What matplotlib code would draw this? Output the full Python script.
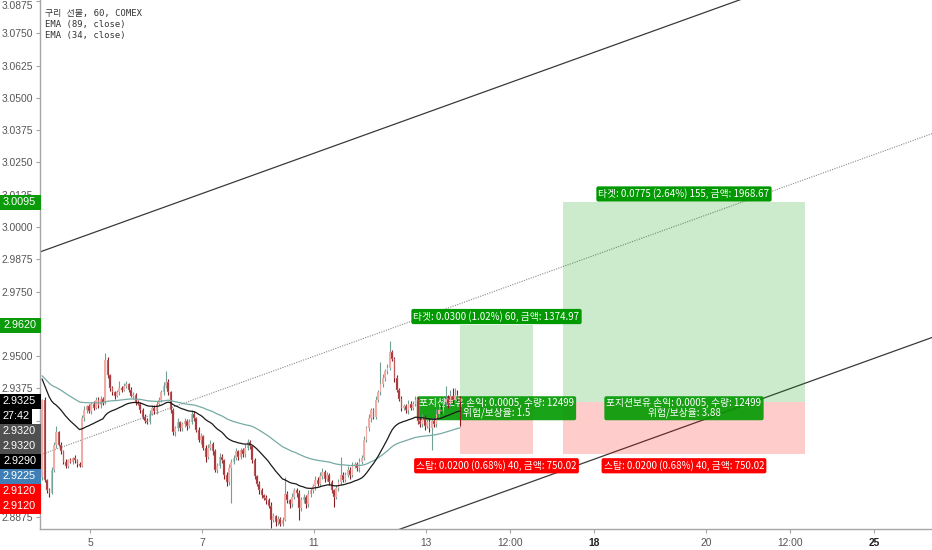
import matplotlib
matplotlib.use('Agg')
import matplotlib.pyplot as plt
from matplotlib.patches import Rectangle
from matplotlib.transforms import IdentityTransform
import numpy as np

W, H, DPI = 932, 550, 100

# ---------------- data ----------------
bars_per_day = 24
bar_start = 3            # index of first visible hourly bar (day units = index / 24)
tick_size = 0.0005
first_open = 2.9030
closes = [
    2.9330, 2.9020, 2.8980, 2.8970, 2.9060, 2.9155, 2.9205, 2.9155, 2.9130, 2.9090,
    2.9075, 2.9095, 2.9090, 2.9105, 2.9095, 2.9080, 2.9075, 2.9260, 2.9290, 2.9305,
    2.9285, 2.9315, 2.9300, 2.9330, 2.9310, 2.9335, 2.9320, 2.9485, 2.9425, 2.9375,
    2.9360, 2.9345, 2.9360, 2.9375, 2.9370, 2.9385, 2.9390, 2.9370, 2.9345, 2.9350,
    2.9320, 2.9315, 2.9290, 2.9265, 2.9250, 2.9245, 2.9275, 2.9300, 2.9285, 2.9315,
    2.9330, 2.9360, 2.9385, 2.9400, 2.9360, 2.9290, 2.9205, 2.9220, 2.9245, 2.9220,
    2.9235, 2.9250, 2.9230, 2.9245, 2.9275, 2.9260, 2.9215, 2.9175, 2.9190, 2.9145,
    2.9110, 2.9145, 2.9160, 2.9130, 2.9060, 2.9075, 2.9110, 2.9095, 2.9040, 2.9010,
    2.9065, 2.9090, 2.9105, 2.9130, 2.9110, 2.9135, 2.9120, 2.9145, 2.9165, 2.9150,
    2.9095, 2.9035, 2.9005, 2.8980, 2.8960, 2.8950, 2.8940, 2.8920, 2.8865, 2.8880,
    2.8855, 2.8870, 2.8850, 2.8865, 2.8965, 2.8940, 2.8925, 2.8955, 2.8980, 2.8970,
    2.8910, 2.8940, 2.8955, 2.8925, 2.8965, 2.8980, 2.8995, 2.9020, 2.9005, 2.9035,
    2.9050, 2.9025, 2.9040, 2.9010, 2.8980, 2.8955, 2.8990, 2.9010, 2.9040, 2.9020,
    2.9040, 2.9060, 2.9040, 2.9075, 2.9080, 2.9065, 2.9090, 2.9105, 2.9175, 2.9220,
    2.9260, 2.9290, 2.9265, 2.9330, 2.9360, 2.9390, 2.9415, 2.9440, 2.9455, 2.9515,
    2.9490, 2.9415, 2.9370, 2.9335, 2.9300, 2.9305, 2.9290, 2.9315, 2.9300, 2.9315,
    2.9330, 2.9250, 2.9235, 2.9260, 2.9230, 2.9245, 2.9220, 2.9250, 2.9235, 2.9275,
    2.9290, 2.9285, 2.9320, 2.9335, 2.9315, 2.9345, 2.9330, 2.9350, 2.9335, 2.9325,
]
# wick extension beyond the body, in ticks
hi_ticks = [
    1, 2, 1, 2, 2, 2, 5, 1, 2, 1,
    2, 1, 2, 1, 2, 1, 2, 2, 3, 1,
    2, 1, 2, 2, 2, 2, 1, 5, 2, 1,
    2, 1, 2, 6, 2, 2, 3, 1, 2, 2,
    1, 2, 1, 2, 2, 2, 3, 2, 2, 2,
    2, 2, 3, 8, 2, 1, 2, 2, 3, 1,
    2, 2, 1, 2, 3, 2, 1, 2, 2, 1,
    2, 3, 3, 1, 2, 2, 3, 2, 1, 2,
    3, 2, 2, 3, 1, 2, 2, 3, 3, 2,
    1, 2, 1, 2, 2, 1, 2, 2, 3, 2,
    1, 2, 1, 2, 13, 2, 1, 3, 2, 2,
    2, 3, 2, 1, 3, 2, 2, 3, 2, 3,
    3, 2, 2, 1, 2, 1, 2, 3, 14, 2,
    2, 3, 2, 3, 2, 2, 3, 2, 3, 2,
    3, 2, 2, 3, 2, 17, 3, 2, 3, 9,
    2, 1, 2, 1, 2, 2, 2, 3, 2, 2,
    3, 2, 2, 3, 2, 2, 3, 2, 2, 4,
    3, 4, 4, 10, 3, 5, 6, 5, 4, 2,
]
lo_ticks = [
    2, 2, 2, 3, 1, 2, 2, 1, 2, 2,
    2, 2, 1, 2, 2, 2, 1, 1, 2, 2,
    1, 2, 2, 1, 2, 2, 2, 1, 2, 2,
    2, 2, 1, 2, 2, 1, 2, 2, 1, 2,
    2, 1, 2, 2, 2, 2, 2, 1, 2, 2,
    1, 2, 2, 2, 2, 2, 2, 3, 2, 2,
    2, 2, 3, 2, 2, 2, 2, 2, 3, 2,
    4, 2, 2, 3, 2, 3, 2, 2, 3, 3,
    2, 27, 2, 2, 3, 2, 2, 2, 2, 2,
    2, 2, 2, 3, 2, 2, 3, 2, 6, 2,
    3, 2, 2, 2, 1, 2, 3, 2, 2, 3,
    9, 2, 2, 3, 2, 2, 2, 3, 2, 2,
    2, 3, 2, 2, 2, 8, 2, 3, 2, 2,
    2, 2, 3, 2, 2, 2, 3, 2, 2, 2,
    2, 3, 2, 2, 2, 2, 2, 2, 2, 2,
    2, 3, 2, 2, 3, 2, 2, 3, 2, 2,
    2, 3, 2, 2, 3, 2, 3, 17, 2, 2,
    3, 2, 2, 2, 3, 2, 3, 2, 2, 19,
]
ema89_seed = 2.9425
ema34_seed = 2.9415

# x axis (trading-day units, weekends removed)
x_tick_pos = [1, 3, 5, 7, 8.5, 10, 12, 13.5, 15]
x_tick_lab = ['5', '7', '11', '13', '12:00', '18', '20', '12:00', '25']
x_bold = ['18', '25']
x_lim = [0.107, 16.036]

y_ticks = [2.8875, 2.9000, 2.9125, 2.9250, 2.9375, 2.9500, 2.9625, 2.9750,
           2.9875, 3.0000, 3.0125, 3.0250, 3.0375, 3.0500, 3.0625, 3.0750, 3.0875]
y_hidden = [2.9000, 2.9125, 2.9625]   # labels fully covered by price-scale badges
y_lim = [2.88295, 3.08798]

# parallel channel (two anchor points per line)
chan_x = [0.0, 16.5]
chan_upper = [2.9895, 3.1185]
chan_mid = [2.9108, 3.0398]
chan_lower = [2.8318, 2.9608]

# long position tools
pos_entry = [2.9320, 2.9320]
pos_target = [2.9620, 3.0095]
pos_stop = [2.9120, 2.9120]
pos_x0 = [7.607, 9.446]
pos_x1 = [8.911, 13.768]
pos_target_txt = ['타겟: 0.0300 (1.02%) 60, 금액: 1374.97',
                  '타겟: 0.0775 (2.64%) 155, 금액: 1968.67']
pos_stop_txt = ['스탑: 0.0200 (0.68%) 40, 금액: 750.02',
                '스탑: 0.0200 (0.68%) 40, 금액: 750.02']
pos_mid_txt = ['포지션보유 손익: 0.0005, 수량: 12499\n위험/보상율: 1.5',
               '포지션보유 손익: 0.0005, 수량: 12499\n위험/보상율: 3.88']

# price-scale badges: value, text, colour
badge_val = [3.0095, 2.9620, 2.9325, 2.9325, 2.9320, 2.9320, 2.9290, 2.9225, 2.9120, 2.9120]
badge_txt = ['3.0095', '2.9620', '2.9325', '27:42', '2.9320', '2.9320', '2.9290', '2.9225', '2.9120', '2.9120']
badge_col = ['#0a9a0a', '#0a9a0a', '#000000', '#000000', '#505050', '#505050',
             '#000000', '#3f7fb5', '#ff0000', '#ff0000']

legend_lines = ['구리 선물, 60, COMEX', 'EMA (89, close)', 'EMA (34, close)']

# ---------------- build ----------------
closes = np.array(closes)
n = len(closes)
opens = np.concatenate([[first_open], closes[:-1]])
highs = np.maximum(opens, closes) + np.array(hi_ticks) * tick_size
lows = np.minimum(opens, closes) - np.array(lo_ticks) * tick_size
xs = (bar_start + np.arange(n) + 0.5) / bars_per_day

def ema(vals, seed, period):
    a = 2.0 / (period + 1)
    out = []
    e = seed
    for v in vals:
        e = e + a * (v - e)
        out.append(e)
    return np.array(out)

e89 = ema(closes, ema89_seed, 89)
e34 = ema(closes, ema34_seed, 34)

fig = plt.figure(figsize=(W / DPI, H / DPI), dpi=DPI)
fig.patch.set_facecolor('white')
ax = fig.add_axes([40 / W, 21 / H, 1 - 40 / W, 1 - 21 / H])
ax.set_xlim(*x_lim)
ax.set_ylim(*y_lim)

for s in ['top', 'right']:
    ax.spines[s].set_visible(False)
for s in ['left', 'bottom']:
    ax.spines[s].set_color('#a6a6a6')
    ax.spines[s].set_linewidth(1.0)

ax.set_yticks(y_ticks)
ax.set_yticklabels(['' if any(abs(v - h) < 1e-9 for h in y_hidden) else f'{v:.4f}'
                    for v in y_ticks])
ax.set_xticks(x_tick_pos)
ax.set_xticklabels(x_tick_lab)
ax.tick_params(axis='both', colors='#a6a6a6', length=3, width=0.8, labelsize=7.4,
               labelcolor='#555555', pad=2)
ax.tick_params(axis='x', pad=3.5)
for lab in ax.get_yticklabels() + ax.get_xticklabels():
    lab.set_fontfamily('Liberation Sans')
for lab in ax.get_xticklabels():
    if lab.get_text() in x_bold:
        lab.set_fontweight('bold')
        lab.set_color('#222222')
for t in ax.yaxis.get_major_ticks():
    if abs(t.get_loc() - y_ticks[-1]) < 1e-9:
        t.label1.set_verticalalignment('top')

# channel
ax.plot(chan_x, chan_upper, color='#3a3a3a', lw=0.9, zorder=1)
ax.plot(chan_x, chan_lower, color='#3a3a3a', lw=0.9, zorder=1)
ax.plot(chan_x, chan_mid, color='#8a8a8a', lw=0.8, ls=(0, (1, 1.2)), zorder=1)

# position tools
fam = ['Noto Sans CJK KR', 'DejaVu Sans']
for k in range(2):
    w = pos_x1[k] - pos_x0[k]
    ax.add_patch(Rectangle((pos_x0[k], pos_entry[k]), w, pos_target[k] - pos_entry[k],
                           facecolor=(0, 0.6, 0, 0.2), edgecolor='none', zorder=2))
    ax.add_patch(Rectangle((pos_x0[k], pos_stop[k]), w, pos_entry[k] - pos_stop[k],
                           facecolor=(1, 0, 0, 0.2), edgecolor='none', zorder=2))
    cx = (pos_x0[k] + pos_x1[k]) / 2
    ax.annotate(pos_target_txt[k], (cx, pos_target[k]), xytext=(0, 2.2), textcoords='offset points',
                ha='center', va='bottom', color='white', fontsize=7, family=fam, zorder=3,
                bbox=dict(boxstyle='round,pad=0.22,rounding_size=0.2', fc='#009900', ec='none'))
    ax.annotate(pos_stop_txt[k], (cx, pos_stop[k]), xytext=(0, -4.5), textcoords='offset points',
                ha='center', va='top', color='white', fontsize=7, family=fam, zorder=3,
                bbox=dict(boxstyle='round,pad=0.22,rounding_size=0.2', fc='#ff0000', ec='none'))
    ax.annotate(pos_mid_txt[k], (cx, pos_entry[k]), xytext=(0, -4), textcoords='offset points',
                ha='center', va='center', color='white', fontsize=7, family=fam, zorder=3,
                linespacing=0.95, multialignment='center',
                bbox=dict(boxstyle='round,pad=0.22,rounding_size=0.2', fc='#009900', ec='none', alpha=0.9))

# candles
up = closes >= opens
bw = 0.72 / bars_per_day
wick_col = np.where(up, '#72a096', '#8a1a22')
ax.vlines(xs, lows, highs, colors=list(wick_col), lw=0.8, zorder=4)
body_lo = np.minimum(opens, closes)
body_h = np.maximum(np.abs(closes - opens), 0.0003)
ax.bar(xs[up], body_h[up], bottom=body_lo[up], width=bw, color='#f2aca6', linewidth=0, zorder=5)
ax.bar(xs[~up], body_h[~up], bottom=body_lo[~up], width=bw * 0.8, color='#94202a',
       edgecolor='#f2aca6', linewidth=0.3, zorder=5)

# EMAs
ax.plot(xs, e89, color='#76aaa4', lw=0.9, zorder=6)
ax.plot(xs, e34, color='#1a1a1a', lw=0.9, zorder=6)

# legend text
for j, s in enumerate(legend_lines):
    ax.text(5 / (W - 40), 1 - (13.5 + 11 * j) / (H - 21), s, transform=ax.transAxes,
            ha='left', va='center', fontsize=6.4, color='#333333',
            family=['DejaVu Sans Mono', 'Noto Sans CJK KR'], zorder=7)

# price-scale badges (stacked to avoid overlap)
fig.canvas.draw()
prev = None
bh = 15
for v, t, c in zip(badge_val, badge_txt, badge_col):
    yp = ax.transData.transform((x_lim[0], v))[1]
    if prev is not None and yp > prev - bh:
        yp = prev - bh
    prev = yp
    wpx = 32 if ':' in t else 41
    fig.add_artist(Rectangle((0, yp - bh / 2), wpx, bh, transform=IdentityTransform(),
                             facecolor=c, edgecolor='none', zorder=10))
    fig.text(wpx / 2 + (0 if ':' in t else -1), yp, t, transform=IdentityTransform(),
             ha='center', va='center', color='white', fontsize=7.8,
             family='Liberation Sans', zorder=11)

fig.savefig('out.png', dpi=DPI, facecolor='white')
